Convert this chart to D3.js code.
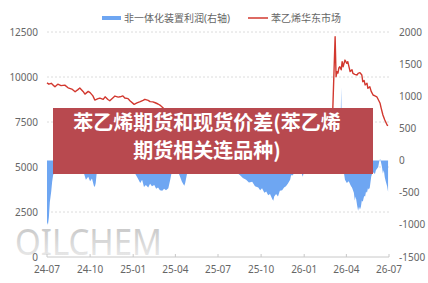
<!DOCTYPE html>
<html>
<head>
<meta charset="utf-8">
<script src="https://cdn.jsdelivr.net/npm/d3@7"></script>
<style>
  html, body { margin: 0; padding: 0; background: #fff; }
  svg { display: block; font-family: "Noto Sans", "Noto Sans CJK SC", sans-serif; }
</style>
</head>
<body>
<svg id="chart" width="428" height="283"></svg>
<script>
// 苯乙烯华东市场 (left axis)
const priceDates = [
  "2024-07-01","2024-07-05","2024-07-10","2024-07-14","2024-07-18","2024-07-24","2024-07-31","2024-08-08",
  "2024-08-15","2024-08-23","2024-08-30","2024-09-05","2024-09-09","2024-09-16","2024-09-20","2024-09-27",
  "2024-10-01","2024-10-07","2024-10-11","2024-10-18","2024-10-22","2024-10-29","2024-11-02","2024-11-08",
  "2024-11-12","2024-11-19","2024-11-23","2024-11-30","2024-12-04","2024-12-10","2024-12-14","2024-12-21",
  "2024-12-25","2025-01-03","2025-01-09","2025-01-16","2025-01-22","2025-01-26","2025-02-02","2025-02-06",
  "2025-02-12","2025-02-17","2025-02-23","2025-02-27","2025-03-06","2025-03-21","2025-04-11","2025-05-02",
  "2025-05-24","2025-06-14","2025-07-05","2025-07-27","2025-08-17","2025-09-07","2025-09-29","2025-10-20",
  "2025-11-10","2025-12-02","2025-12-23","2026-01-13","2026-02-04","2026-02-25","2026-03-01","2026-03-03",
  "2026-03-08","2026-03-10","2026-03-12","2026-03-14","2026-03-16","2026-03-18","2026-03-21","2026-03-23",
  "2026-03-25","2026-03-29","2026-04-02","2026-04-04","2026-04-09","2026-04-13","2026-04-15","2026-04-19",
  "2026-04-24","2026-04-26","2026-04-30","2026-05-04","2026-05-06","2026-05-09","2026-05-11","2026-05-15",
  "2026-05-17","2026-05-21","2026-05-24","2026-05-28","2026-06-01","2026-06-05","2026-06-08","2026-06-12",
  "2026-06-14","2026-06-18","2026-06-22","2026-06-27","2026-06-29"
];
const priceValues = [
  9670, 9600, 9650, 9550, 9460, 9600, 9520, 9550,
  9400, 9330, 9180, 9300, 9390, 9200, 9050, 9200,
  9130, 8950, 8720, 8800, 8830, 8760, 8900, 8750,
  8680, 8850, 8940, 8880, 8900, 8950, 8830, 8800,
  8680, 8480, 8560, 8630, 8700, 8760, 8700, 8630,
  8620, 8570, 8500, 8440, 8280, 7900, 7600, 7300,
  7500, 7700, 7400, 7300, 7200, 7100, 6900, 6700,
  6600, 6700, 6600, 6700, 6900, 7200, 7400, 8200,
  12240, 10020, 10300, 10220, 10500, 10570, 10400, 10850,
  10570, 10940, 10760, 10850, 10300, 10400, 10200, 10150,
  10110, 10200, 10240, 10110, 9740, 9800, 9560, 9650,
  9370, 9460, 9200, 9000, 8950, 8900, 8750, 8540,
  8300, 7890, 7610, 7330, 7300
];

// 非一体化装置利润 (right axis)
const profitDates = [
  "2024-07-01","2024-07-03","2024-07-05","2024-07-07","2024-07-10","2024-07-12","2024-07-14","2024-07-18",
  "2024-07-29","2024-08-08","2024-08-19","2024-08-30","2024-09-09","2024-09-18","2024-09-22","2024-09-27",
  "2024-10-01","2024-10-05","2024-10-09","2024-10-11","2024-10-13","2024-10-15","2024-10-22","2024-11-12",
  "2024-12-04","2024-12-25","2025-01-05","2025-01-11","2025-01-16","2025-01-20","2025-01-24","2025-01-28",
  "2025-02-02","2025-02-06","2025-02-10","2025-02-15","2025-02-19","2025-02-23","2025-02-27","2025-03-04",
  "2025-03-08","2025-03-12","2025-03-17","2025-03-21","2025-03-25","2025-04-03","2025-04-11","2025-04-15",
  "2025-04-20","2025-04-22","2025-04-26","2025-05-02","2025-05-24","2025-06-14","2025-07-05","2025-07-27",
  "2025-08-09","2025-08-17","2025-08-23","2025-08-30","2025-09-05","2025-09-12","2025-09-18","2025-09-25",
  "2025-09-29","2025-10-03","2025-10-08","2025-10-12","2025-10-16","2025-10-20","2025-10-25","2025-10-27",
  "2025-10-29","2025-11-02","2025-11-06","2025-11-10","2025-11-15","2025-11-19","2025-11-23","2025-11-27",
  "2025-12-02","2025-12-04","2025-12-08","2025-12-12","2025-12-23","2025-12-29","2026-01-02","2026-01-13",
  "2026-02-04","2026-02-25","2026-03-14","2026-03-18","2026-03-21","2026-03-23","2026-03-27","2026-03-29",
  "2026-04-02","2026-04-06","2026-04-11","2026-04-13","2026-04-17","2026-04-19","2026-04-21","2026-04-24",
  "2026-04-26","2026-04-28","2026-04-30","2026-05-02","2026-05-04","2026-05-06","2026-05-09","2026-05-11",
  "2026-05-13","2026-05-15","2026-05-17","2026-05-19","2026-05-21","2026-05-24","2026-05-26","2026-05-28",
  "2026-06-01","2026-06-03","2026-06-08","2026-06-10","2026-06-12","2026-06-14","2026-06-16","2026-06-18",
  "2026-06-20","2026-06-22","2026-06-24","2026-06-27","2026-06-29"
];
const profitValues = [
  -960, -1000, -880, -650, -480, -330, -230, -150,
  -100, -60, -120, -80, -150, -200, -300, -250,
  -320, -280, -390, -410, -350, -200, -120, -80,
  -100, -150, -200, -280, -350, -300, -410, -380,
  -420, -360, -400, -380, -440, -420, -460, -470,
  -440, -460, -430, -300, -150, -100, -250, -330,
  -390, -350, -200, -100, -80, -60, -100, -120,
  -180, -230, -270, -300, -340, -330, -400, -420,
  -460, -430, -500, -480, -540, -520, -600, -625,
  -560, -520, -560, -470, -460, -420, -400, -360,
  -300, -230, -230, -150, -120, -250, -120, -100,
  -80, -120, -150, -100, 1140, -100, -200, -300,
  -350, -320, -400, -420, -500, -620, -560, -700,
  -780, -720, -760, -720, -620, -640, -550, -560,
  -480, -500, -430, -450, -420, -250, -200, -180,
  -210, -150, -100, -20, 30, -30, -100, -200,
  -150, -260, -320, -400, -490
];

const leftTicks = [0, 2500, 5000, 7500, 10000, 12500];
const rightTicks = [-1500, -1000, -500, 0, 500, 1000, 1500, 2000];
const xTickLabels = ["24-07","24-10","25-01","25-04","25-07","25-10","26-01","26-04","26-07"];
const legendNames = ["非一体化装置利润(右轴)", "苯乙烯华东市场"];
const bannerLines = ["苯乙烯期货和现货价差(苯乙烯", "期货相关连品种)"];

const parse = d3.timeParse("%Y-%m-%d");
const priceData = priceDates.map((d, i) => ({ date: parse(d), value: priceValues[i] }));
const profitData = profitDates.map((d, i) => ({ date: parse(d), value: profitValues[i] }));

const svg = d3.select("#chart");
const plotLeft = 47, plotRight = 389, plotTop = 32, plotBottom = 257;

const x = d3.scaleTime()
  .domain([parse("2024-07-01"), parse("2026-07-01")])
  .range([plotLeft, plotRight]);
const yL = d3.scaleLinear().domain([0, 12500]).range([plotBottom, plotTop]);
const yR = d3.scaleLinear().domain([-1500, 2000]).range([plotBottom, plotTop]);

// gridlines
svg.append("g")
  .selectAll("line")
  .data(leftTicks.filter(t => t > 0))
  .enter().append("line")
  .attr("x1", plotLeft).attr("x2", plotRight)
  .attr("y1", d => yL(d)).attr("y2", d => yL(d))
  .attr("stroke", "#dcdcdc")
  .attr("stroke-dasharray", "2,2");

// watermark
const defs = svg.append("defs");
const grad = defs.append("linearGradient")
  .attr("id", "wm").attr("x1", 0).attr("y1", 0).attr("x2", 0).attr("y2", 1);
grad.append("stop").attr("offset", "0%").attr("stop-color", "#bcbcbc");
grad.append("stop").attr("offset", "100%").attr("stop-color", "#f2f2f2");
svg.append("text")
  .attr("x", 15).attr("y", 255)
  .attr("textLength", 147)
  .attr("lengthAdjust", "spacingAndGlyphs")
  .attr("font-size", 37)
  .attr("font-weight", 400)
  .attr("fill", "url(#wm)")
  .text("OILCHEM");

// profit area
const area = d3.area()
  .x(d => x(d.date))
  .y0(yR(0))
  .y1(d => yR(d.value));
svg.append("path")
  .datum(profitData)
  .attr("d", area)
  .attr("fill", "#6ea6f2");

// price line
const line = d3.line()
  .x(d => x(d.date))
  .y(d => yL(d.value));
svg.append("path")
  .datum(priceData)
  .attr("d", line)
  .attr("fill", "none")
  .attr("stroke", "#d2382f")
  .attr("stroke-width", 1.4)
  .attr("stroke-linejoin", "round");

// x axis
const xTicks = xTickLabels.map(s => parse("20" + s + "-01"));
svg.append("line")
  .attr("x1", plotLeft).attr("x2", plotRight)
  .attr("y1", plotBottom).attr("y2", plotBottom)
  .attr("stroke", "#c8c8c8");
svg.append("g")
  .selectAll("line")
  .data(xTicks)
  .enter().append("line")
  .attr("x1", d => x(d)).attr("x2", d => x(d))
  .attr("y1", plotBottom - 3).attr("y2", plotBottom)
  .attr("stroke", "#c8c8c8");
svg.append("g")
  .selectAll("text")
  .data(xTicks)
  .enter().append("text")
  .attr("x", d => x(d))
  .attr("y", 273)
  .attr("text-anchor", "middle")
  .attr("font-size", 10)
  .attr("fill", "#666")
  .text((d, i) => xTickLabels[i]);

// y axes labels
svg.append("g")
  .selectAll("text")
  .data(leftTicks)
  .enter().append("text")
  .attr("x", 38)
  .attr("y", d => yL(d))
  .attr("dy", "0.35em")
  .attr("text-anchor", "end")
  .attr("font-size", 10)
  .attr("fill", "#666")
  .text(d => d);
svg.append("g")
  .selectAll("text")
  .data(rightTicks)
  .enter().append("text")
  .attr("x", 399)
  .attr("y", d => yR(d))
  .attr("dy", "0.35em")
  .attr("text-anchor", "start")
  .attr("font-size", 10)
  .attr("fill", "#666")
  .text(d => d);

// legend
const legend = svg.append("g").attr("font-size", 10).attr("fill", "#666");
legend.append("rect")
  .attr("x", 102).attr("y", 16).attr("width", 19).attr("height", 4)
  .attr("fill", "#6ea6f2");
legend.append("text").attr("x", 124).attr("y", 18).attr("dy", "0.35em").text(legendNames[0]);
legend.append("line")
  .attr("x1", 248).attr("x2", 268).attr("y1", 18).attr("y2", 18)
  .attr("stroke", "#d2382f").attr("stroke-width", 1.5);
legend.append("text").attr("x", 271).attr("y", 18).attr("dy", "0.35em").text(legendNames[1]);

// title banner over the chart
svg.append("rect")
  .attr("x", 53).attr("y", 108).attr("width", 320).attr("height", 66)
  .attr("fill", "#b8494f");
svg.append("g")
  .selectAll("text")
  .data(bannerLines)
  .enter().append("text")
  .attr("x", 207)
  .attr("y", (d, i) => 123 + i * 28)
  .attr("dy", "0.35em")
  .attr("text-anchor", "middle")
  .attr("font-family", "'Noto Sans CJK SC', sans-serif")
  .attr("font-size", 20)
  .attr("font-weight", 700)
  .attr("fill", "#fff")
  .text(d => d);
</script>
</body>
</html>
